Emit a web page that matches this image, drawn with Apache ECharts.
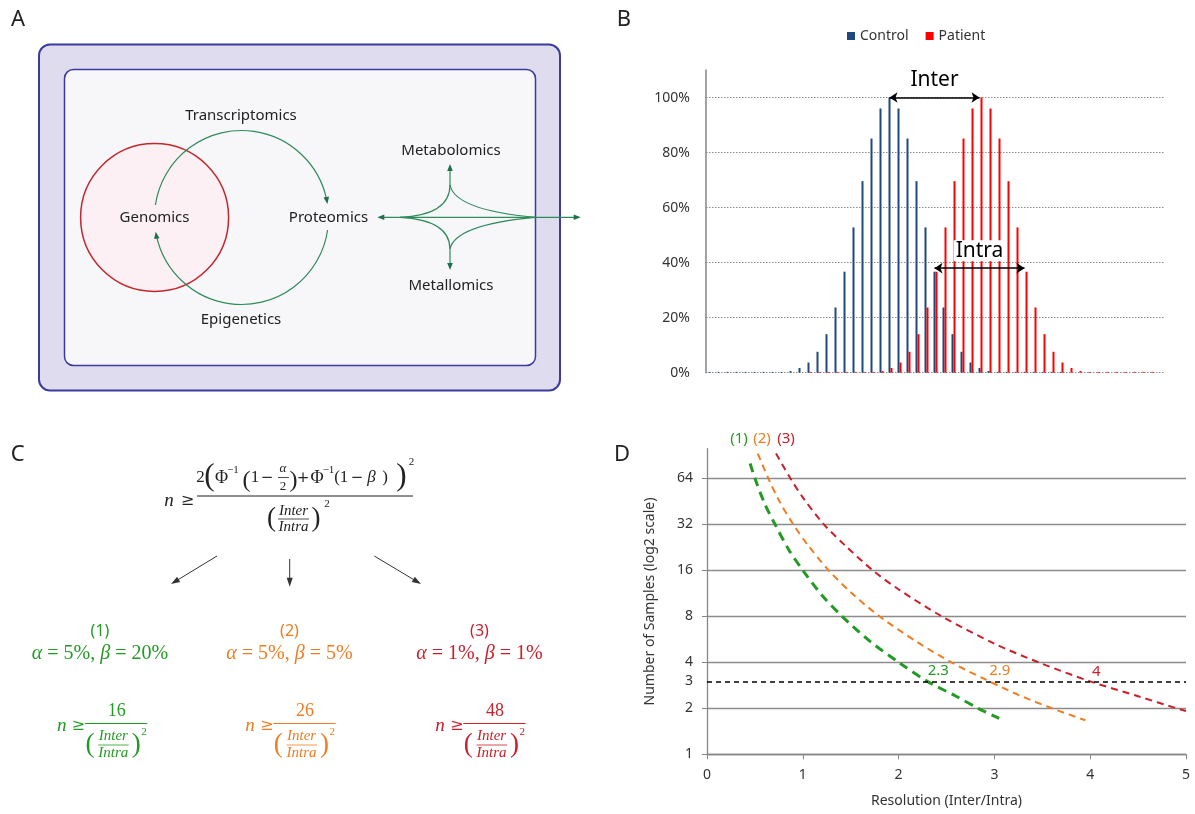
<!DOCTYPE html>
<html>
<head>
<meta charset="utf-8">
<title>Sample size figure</title>
<script src="https://cdn.jsdelivr.net/npm/echarts@6/dist/echarts.min.js"></script>
<style>
  html, body { margin: 0; padding: 0; background: #fff; }
  #chart { width: 1195px; height: 814px; }
</style>
</head>
<body>
<div id="chart"></div>
<script>
// ---- panel B: distribution of a marker in two groups (% of max) ----
const bins = [0, 1, 2, 3, 4, 5, 6, 7, 8, 9, 10, 11, 12, 13, 14, 15, 16, 17, 18, 19, 20,
  21, 22, 23, 24, 25, 26, 27, 28, 29, 30, 31, 32, 33, 34, 35, 36, 37, 38, 39, 40,
  41, 42, 43, 44, 45, 46, 47, 48, 49, 50];
const controlPct = [0.3, 0.3, 0.3, 0.3, 0.3, 0.3, 0.3, 0.3, 0.3,
  0.6, 1.7, 3.7, 7.6, 14.0, 23.7, 36.7, 52.8, 69.6, 85.1, 96.0, 100,
  96.0, 85.1, 69.6, 52.8, 36.7, 23.7, 14.0, 7.6, 3.7, 1.7, 0.6,
  0.3, 0.3, 0.3, 0.3, 0.3, 0.3, 0.3, 0.3,
  0, 0, 0, 0, 0, 0, 0, 0, 0, 0, 0];
const patientPct = [0, 0, 0, 0, 0, 0, 0, 0, 0, 0, 0,
  0.3, 0.3, 0.3, 0.3, 0.3, 0.3, 0.3, 0.3,
  0.6, 1.7, 3.7, 7.6, 14.0, 23.7, 36.7, 52.8, 69.6, 85.1, 96.0, 100,
  96.0, 85.1, 69.6, 52.8, 36.7, 23.7, 14.0, 7.6, 3.7, 1.7, 0.6,
  0.3, 0.3, 0.3, 0.3, 0.3, 0.3, 0.3, 0.3, 0];
const interBins = [20, 30];
const intraBins = [25, 35];

// ---- panel D: required samples vs resolution ----
const curve1 = [[0.45, 80], [0.5, 64], [0.6, 44], [0.71, 32], [0.85, 22], [1.0, 16], [1.2, 11],
  [1.41, 8], [1.7, 5.5], [2.0, 4], [2.3, 3], [2.6, 2.4], [2.83, 2], [3.05, 1.72]];
const curve2 = [[0.53, 93], [0.64, 64], [0.75, 46], [0.9, 32], [1.05, 23.5], [1.27, 16], [1.5, 11.5],
  [1.8, 8], [2.2, 5.4], [2.55, 4], [2.9, 3.1], [3.25, 2.45], [3.6, 2], [3.95, 1.67]];
const curve3 = [[0.72, 93], [0.87, 64], [1.0, 48], [1.22, 32], [1.45, 23], [1.73, 16], [2.0, 12],
  [2.45, 8], [3.0, 5.3], [3.46, 4], [4.0, 3], [4.5, 2.4], [4.9, 2], [5.0, 1.92]];
const crossings = [2.3, 2.9, 4];
const minSamples = 3;

// ---- panel C: the three settings ----
const caseLabels = ['(1)', '(2)', '(3)'];
const caseAlpha = ['5%', '5%', '1%'];
const caseBeta = ['20%', '5%', '1%'];
const caseConst = ['16', '26', '48'];

const GREEN = '#239a23';
const ORANGE = '#f07c22';
const RED = '#c9202b';
const caseColors = [GREEN, ORANGE, RED];

const SANS = '"Noto Sans", "DejaVu Sans", sans-serif';
const SERIF = '"Liberation Serif", "DejaVu Serif", serif';
const OPS = '"DejaVu Serif", serif';

function txt(x, y, text, size, color, opts) {
  opts = opts || {};
  const align = opts.align || 'center';
  return {
    type: 'text', x: x, y: y, z: 10,
    style: {
      text: text, fill: color || '#222', fontSize: size,
      fontFamily: opts.family || SANS,
      fontStyle: opts.italic ? 'italic' : 'normal',
      align: align, verticalAlign: 'middle',
      textAlign: align, textVerticalAlign: 'middle'
    }
  };
}
function seg(x1, y1, x2, y2, color, w) {
  return { type: 'line', z: 5, shape: { x1: x1, y1: y1, x2: x2, y2: y2 },
    style: { stroke: color, lineWidth: w || 1 } };
}
function head(tx, ty, dx, dy, len, half, color) {
  const n = Math.hypot(dx, dy), ux = dx / n, uy = dy / n;
  const bx = tx - ux * len, by = ty - uy * len;
  return { type: 'polygon', z: 6,
    shape: { points: [[tx, ty], [bx - uy * half, by + ux * half], [bx + uy * half, by - ux * half]] },
    style: { fill: color } };
}
function arrow(x1, y1, x2, y2, color, w, len, half) {
  const n = Math.hypot(x2 - x1, y2 - y1), ux = (x2 - x1) / n, uy = (y2 - y1) / n;
  return [seg(x1, y1, x2 - ux * len * 0.7, y2 - uy * len * 0.7, color, w),
    head(x2, y2, ux, uy, len, half, color)];
}

// ---- panel A: omics diagram ----
const G = '#2f8a5a', GH = '#1f7046';
let elems = [
  txt(18, 20, 'A', 22, '#222'),
  { type: 'rect', shape: { x: 39, y: 44.5, width: 521, height: 346, r: 11 },
    style: { fill: '#dedcee', stroke: '#3b3b9e', lineWidth: 2 } },
  { type: 'rect', shape: { x: 64.5, y: 69.5, width: 471, height: 296, r: 9 },
    style: { fill: '#f7f7fa', stroke: '#3b3b9e', lineWidth: 1.5 } },
  { type: 'circle', shape: { cx: 154.6, cy: 217.5, r: 74 },
    style: { fill: '#fcf0f4', stroke: '#c0272d', lineWidth: 1.5 } },
  { type: 'arc', z: 4, shape: { cx: 241.5, cy: 217.5, r: 87, startAngle: Math.PI + 0.144,
    endAngle: 2 * Math.PI - 0.2, clockwise: true }, style: { stroke: G, fill: null, lineWidth: 1.2 } },
  head(327.4, 203.9, 0.156, 0.988, 7, 2.8, GH),
  { type: 'arc', z: 4, shape: { cx: 241.5, cy: 217.5, r: 87, startAngle: 0.144,
    endAngle: Math.PI - 0.21, clockwise: true }, style: { stroke: G, fill: null, lineWidth: 1.2 } },
  head(155.7, 231.7, -0.163, -0.987, 7, 2.8, GH),
  seg(382, 217.3, 576, 217.3, G, 1.2),
  head(377.3, 217.3, -1, 0, 7, 2.8, GH),
  head(580.7, 217.3, 1, 0, 7, 2.8, GH),
  seg(450, 186, 450, 170, G, 1.2),
  head(450, 164, 0, -1, 7, 2.8, GH),
  seg(450, 249, 450, 265, G, 1.2),
  head(450, 270, 0, 1, 7, 2.8, GH)
];
[[185, 400, 450, 215], [185, 535, 455, 210], [249, 400, 450, 220], [249, 535, 455, 224.6]].forEach(function (c) {
  elems.push({ type: 'bezierCurve', z: 5,
    shape: { x1: 450, y1: c[0], x2: c[1], y2: 217.3, cpx1: c[2], cpy1: c[3] },
    style: { stroke: G, fill: null, lineWidth: 1.2 } });
});
elems.push(
  txt(241, 115.7, 'Transcriptomics', 15),
  txt(154.5, 217.5, 'Genomics', 15),
  txt(328.5, 217.5, 'Proteomics', 15),
  txt(241, 319.5, 'Epigenetics', 15),
  txt(451, 150.7, 'Metabolomics', 15),
  txt(451, 285.7, 'Metallomics', 15),
  txt(624, 20, 'B', 22, '#222'),
  txt(17.6, 455, 'C', 22, '#222'),
  txt(622, 455, 'D', 22, '#222')
);

// ---- panel C: general formula ----
const K = '#222';
function m(x, y, s, size, color, italic) {
  return txt(x, y, s, size, color, { family: SERIF, italic: italic });
}
function op(x, y, s, size, color) {
  return txt(x, y, s, size, color, { family: OPS });
}
elems.push(
  m(169, 501, 'n', 19, K, true), op(187.5, 501, '≥', 16, K),
  seg(197, 496, 413, 496, K, 1),
  m(200.5, 478, '2', 17, K),
  m(209.5, 477, '(', 31, K),
  m(221.5, 478, 'Φ', 18, K), m(233, 470, '−1', 11, K),
  m(246.5, 481, '(', 24, K),
  m(255, 478, '1', 17, K), op(267, 478, '−', 15, K),
  m(283, 469, 'α', 13, K, true), seg(278, 477.5, 289, 477.5, K, 0.8), m(283, 486.5, '2', 13, K),
  m(293.5, 481, ')', 24, K),
  op(303, 478, '+', 15, K),
  m(317, 478, 'Φ', 18, K), m(328.5, 470, '−1', 11, K),
  m(337, 478, '(', 17, K), m(344, 478, '1', 17, K), op(357, 478, '−', 15, K),
  m(371.5, 478, 'β', 17, K, true), m(385, 478, ')', 17, K),
  m(401.5, 477, ')', 31, K), m(411.5, 462.5, '2', 11, K),
  m(271.5, 519, '(', 27, K),
  m(293.5, 511, 'Inter', 15, K, true), seg(278, 519, 309, 519, K, 0.8),
  m(293.5, 527.5, 'Intra', 15, K, true),
  m(316, 519, ')', 27, K), m(327, 504, '2', 11, K)
);
elems = elems.concat(
  arrow(217, 556, 171, 584, '#333', 1, 9, 3),
  arrow(289.7, 559, 289.7, 586.7, '#333', 1, 9, 3),
  arrow(374.3, 556, 421, 584, '#333', 1, 9, 3)
);

// ---- panel C: the three cases ----
const caseCenters = [100, 289.5, 479.5];
const formulaX = [56.7, 245, 435];
caseLabels.forEach(function (lab, i) {
  const c = caseColors[i], cx = caseCenters[i], x0 = formulaX[i];
  elems.push(txt(cx, 631.7, lab, 16, c));
  elems.push({
    type: 'text', x: cx, y: 653.5, z: 10,
    style: {
      text: '{i|α} = ' + caseAlpha[i] + ', {i|β} = ' + caseBeta[i],
      fill: c, fontSize: 20, fontFamily: SERIF,
      align: 'center', verticalAlign: 'middle', textAlign: 'center', textVerticalAlign: 'middle',
      rich: { i: { fontStyle: 'italic', fontSize: 20, fontFamily: SERIF, fill: c } }
    }
  });
  elems.push(
    m(x0 + 5, 726, 'n', 19, c, true), op(x0 + 21.6, 726, '≥', 16, c),
    seg(x0 + 28.3, 723.5, x0 + 90.6, 723.5, c, 1),
    m(x0 + 60, 711, caseConst[i], 18, c),
    m(x0 + 33.3, 745, '(', 27, c),
    m(x0 + 56.6, 736.5, 'Inter', 15, c, true),
    seg(x0 + 41.5, 745, x0 + 72, 745, c, 0.8),
    m(x0 + 56.6, 753.5, 'Intra', 15, c, true),
    m(x0 + 79.6, 745, ')', 27, c), m(x0 + 87.3, 731.7, '2', 11, c)
  );
});
[739, 762, 786].forEach(function (x, i) {
  elems.push(txt(x, 438.3, caseLabels[i], 15, caseColors[i]));
});

const chart = echarts.init(document.getElementById('chart'));
const axisGray = '#868686';
const labelStyle = { color: '#333', fontSize: 14, fontFamily: SANS };

chart.setOption({
  animation: false,
  textStyle: { fontFamily: SANS },
  legend: {
    left: 842, top: 24, itemWidth: 8, itemHeight: 8, itemGap: 17, icon: 'rect',
    data: ['Control', 'Patient'], textStyle: { color: '#333', fontSize: 14 }
  },
  grid: [
    { left: 706, top: 70, width: 459, height: 302.7 },
    { left: 707, top: 448.7, width: 479, height: 305.6 }
  ],
  xAxis: [
    { gridIndex: 0, type: 'category', data: bins,
      axisLine: { show: false }, axisTick: { show: false }, axisLabel: { show: false } },
    { gridIndex: 1, type: 'value', min: 0, max: 5, interval: 1,
      name: 'Resolution (Inter/Intra)', nameLocation: 'middle', nameGap: 40,
      nameTextStyle: labelStyle,
      axisLine: { lineStyle: { color: axisGray, width: 1.3 } },
      axisTick: { show: true, length: 5, lineStyle: { color: axisGray } },
      axisLabel: Object.assign({ margin: 14 }, labelStyle),
      splitLine: { show: false } }
  ],
  yAxis: [
    { gridIndex: 0, type: 'value', min: 0, max: 110, interval: 20,
      axisLine: { show: true, lineStyle: { color: axisGray, width: 1.5 } },
      axisTick: { show: false },
      axisLabel: Object.assign({ formatter: '{value}%', margin: 16, showMaxLabel: false }, labelStyle),
      splitLine: { show: true, showMaxLine: false, lineStyle: { color: '#8a8a8a', type: [1.5, 1.5], width: 1 } } },
    { gridIndex: 1, type: 'log', logBase: 2, min: 1, max: 100,
      name: 'Number of Samples (log2 scale)', nameLocation: 'middle', nameGap: 50,
      nameTextStyle: labelStyle,
      axisLine: { show: true, lineStyle: { color: axisGray, width: 1.3 } },
      axisTick: { show: true, length: 5, lineStyle: { color: axisGray } },
      axisLabel: Object.assign({ margin: 14, showMaxLabel: false }, labelStyle),
      splitLine: { show: true, showMaxLine: false, lineStyle: { color: '#8c8c8c', width: 1.3 } } }
  ],
  graphic: { elements: elems },
  series: [
    { name: 'Control', type: 'bar', xAxisIndex: 0, yAxisIndex: 0, data: controlPct,
      barWidth: 2, barGap: '0%', itemStyle: { color: '#1f497d' },
      markLine: {
        silent: true, symbol: ['arrow', 'arrow'], symbolSize: 8,
        lineStyle: { color: '#000', width: 1.5, type: 'solid' },
        label: { show: true, position: 'insideMiddleTop', distance: 7, color: '#000',
          fontSize: 21, fontFamily: SANS, backgroundColor: '#fff', padding: [0, 2] },
        data: [
          [{ coord: [interBins[0], 100], label: { formatter: 'Inter', backgroundColor: 'transparent' } },
           { coord: [interBins[1], 100] }],
          [{ coord: [intraBins[0], 38], label: { formatter: 'Intra' } },
           { coord: [intraBins[1], 38] }]
        ]
      } },
    { name: 'Patient', type: 'bar', xAxisIndex: 0, yAxisIndex: 0, data: patientPct,
      barWidth: 2, barGap: '0%', itemStyle: { color: '#ff0000' } },
    { name: 'case1', type: 'line', xAxisIndex: 1, yAxisIndex: 1, data: curve1,
      smooth: 0.3, showSymbol: false, z: 4,
      lineStyle: { color: GREEN, width: 3, type: [9, 6] },
      markLine: {
        silent: true, symbol: 'none',
        lineStyle: { color: '#000', width: 1.5, type: [5, 4] },
        label: { show: true, position: 'start', distance: 14, formatter: String(minSamples),
          color: '#333', fontSize: 14, fontFamily: SANS },
        data: [{ yAxis: minSamples }]
      },
      markPoint: { symbol: 'circle', symbolSize: 1, itemStyle: { color: 'transparent' },
        label: { show: true, position: 'inside', offset: [11, -11], color: GREEN, fontSize: 15, formatter: '{c}' },
        data: [{ coord: [crossings[0], minSamples], value: crossings[0] }] } },
    { name: 'case2', type: 'line', xAxisIndex: 1, yAxisIndex: 1, data: curve2,
      smooth: 0.3, showSymbol: false, z: 4,
      lineStyle: { color: ORANGE, width: 2, type: [7, 5] },
      markPoint: { symbol: 'circle', symbolSize: 1, itemStyle: { color: 'transparent' },
        label: { show: true, position: 'inside', offset: [15, -11], color: ORANGE, fontSize: 15, formatter: '{c}' },
        data: [{ coord: [crossings[1], minSamples], value: crossings[1] }] } },
    { name: 'case3', type: 'line', xAxisIndex: 1, yAxisIndex: 1, data: curve3,
      smooth: 0.3, showSymbol: false, z: 4,
      lineStyle: { color: RED, width: 2, type: [7, 5] },
      markPoint: { symbol: 'circle', symbolSize: 1, itemStyle: { color: 'transparent' },
        label: { show: true, position: 'inside', offset: [6, -10], color: RED, fontSize: 15, formatter: '{c}' },
        data: [{ coord: [crossings[2], minSamples], value: crossings[2] }] } }
  ]
});

window.addEventListener('resize', function () { chart.resize(); });
</script>
</body>
</html>
